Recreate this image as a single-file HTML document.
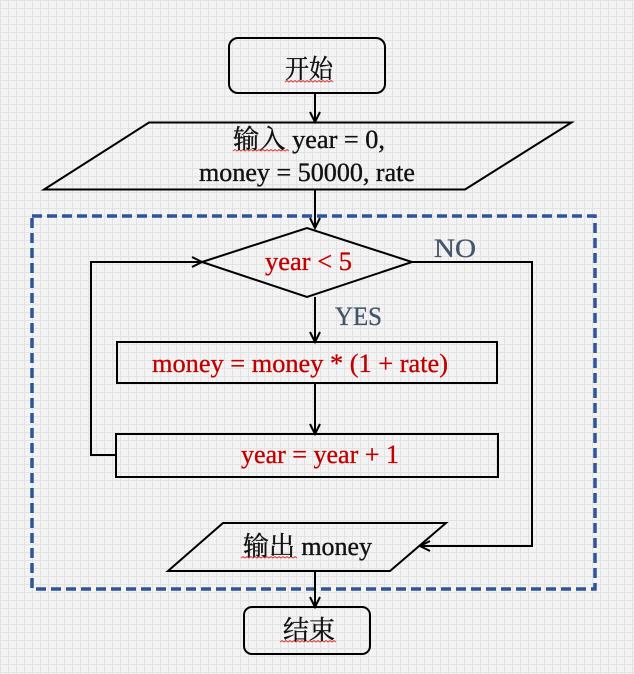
<!DOCTYPE html>
<html>
<head>
<meta charset="utf-8">
<style>
  html, body { margin:0; padding:0; }
  body {
    width:634px; height:674px; overflow:hidden;
    background-color:#f3f3f3;
    background-image:
      linear-gradient(to right, #e2e2e2 1px, transparent 1px),
      linear-gradient(to bottom, #e2e2e2 1px, transparent 1px);
    background-size: 8px 8px;
  }
  svg { position:absolute; left:0; top:0; }
  text { font-family: "Liberation Serif", "Noto Serif CJK SC", "Noto Sans CJK SC", serif; font-size:26px; }
  .cjk { font-family: "Liberation Serif", "Noto Serif CJK SC", serif; }
</style>
</head>
<body>
<svg width="634" height="674" viewBox="0 0 634 674" xmlns="http://www.w3.org/2000/svg">
  <!-- dashed container -->
  <rect x="32" y="216" width="563" height="373" fill="none" stroke="#2F5597" stroke-width="3.5" stroke-dasharray="10 5"/>

  <g fill="none" stroke="#000" stroke-width="2">
    <rect x="229" y="38" width="156" height="55" rx="9" ry="9"/>
    <polygon points="149,122.5 571.5,122.5 465,189.5 44,189.5"/>
    <polygon points="202,262 307,228 412,262 307,297"/>
    <rect x="117" y="342" width="380" height="41"/>
    <rect x="116" y="434" width="382" height="43"/>
    <polygon points="223,523 446,523 390,571 168,571"/>
    <rect x="244" y="607" width="126" height="47" rx="8" ry="8"/>

    <line x1="315" y1="93" x2="315" y2="122"/>
    <polyline points="310,112 315,122 320,112"/>

    <line x1="315" y1="189.5" x2="315" y2="228"/>
    <polyline points="310,218 315,228 320,218"/>

    <line x1="315" y1="297" x2="315" y2="342"/>
    <polyline points="310,332 315,342 320,332"/>

    <line x1="315" y1="383" x2="315" y2="434"/>
    <polyline points="310,424 315,434 320,424"/>

    <polyline points="116,455 91,455 91,262 202,262"/>
    <polyline points="192,257 202,262 192,267"/>

    <polyline points="412,262 532,262 532,546 420,546"/>
    <polyline points="430,541 420,546 430,551"/>

    <line x1="315" y1="571" x2="315" y2="607"/>
    <polyline points="310,597 315,607 320,597"/>
  </g>

  <!-- spell-check squiggles -->
  <g fill="none" stroke="#e03030" stroke-width="0.9">
    <polyline points="285,82 287,80.5 289,82 291,80.5 293,82 295,80.5 297,82 299,80.5 301,82 303,80.5 305,82 307,80.5 309,82 311,80.5 313,82 315,80.5 317,82 319,80.5 321,82 323,80.5 325,82 327,80.5 329,82 331,80.5 333,82"/>
    <polyline points="233,151 235,149.5 237,151 239,149.5 241,151 243,149.5 245,151 247,149.5 249,151 251,149.5 253,151 255,149.5 257,151 259,149.5 261,151 263,149.5 265,151 267,149.5 269,151 271,149.5 273,151 275,149.5 277,151 279,149.5 281,151 283,149.5 285,151 287,149.5 289,151"/>
    <polyline points="241,558 243,556.5 245,558 247,556.5 249,558 251,556.5 253,558 255,556.5 257,558 259,556.5 261,558 263,556.5 265,558 267,556.5 269,558 271,556.5 273,558 275,556.5 277,558 279,556.5 281,558 283,556.5 285,558 287,556.5 289,558 291,556.5 293,558 295,556.5 297,558"/>
    <polyline points="280,642 282,640.5 284,642 286,640.5 288,642 290,640.5 292,642 294,640.5 296,642 298,640.5 300,642 302,640.5 304,642 306,640.5 308,642 310,640.5 312,642 314,640.5 316,642 318,640.5 320,642 322,640.5 324,642 326,640.5 328,642 330,640.5 332,642 334,640.5 336,642"/>
  </g>

  <!-- text -->
  <g fill="#111" stroke="#111" stroke-width="0.35">
    <text class="cjk" x="285" y="78" textLength="48" lengthAdjust="spacingAndGlyphs">开始</text>
    <text x="233" y="148" textLength="152" lengthAdjust="spacingAndGlyphs">输入 year = 0,</text>
    <text x="199" y="181" textLength="216" lengthAdjust="spacingAndGlyphs">money = 50000, rate</text>
    <text x="243" y="555" textLength="129" lengthAdjust="spacingAndGlyphs">输出 money</text>
    <text class="cjk" x="283" y="639" textLength="52" lengthAdjust="spacingAndGlyphs">结束</text>
  </g>
  <g fill="#C00000" stroke="#C00000" stroke-width="0.3">
    <text x="265" y="270" textLength="87" lengthAdjust="spacingAndGlyphs">year &lt; 5</text>
    <text x="152" y="372" textLength="296" lengthAdjust="spacingAndGlyphs">money = money * (1 + rate)</text>
    <text x="241" y="463" textLength="158" lengthAdjust="spacingAndGlyphs">year = year + 1</text>
  </g>
  <g fill="#44546A" stroke="#44546A" stroke-width="0.3">
    <text x="434" y="257" textLength="42" lengthAdjust="spacingAndGlyphs">NO</text>
    <text x="335" y="325" textLength="47" lengthAdjust="spacingAndGlyphs">YES</text>
  </g>
</svg>
</body>
</html>
